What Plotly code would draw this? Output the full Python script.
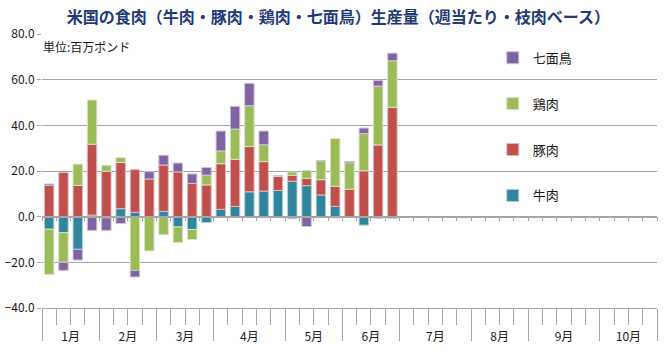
import plotly.graph_objects as go

# ---- data ----
beef = [-5.5, -7.0, -14.3, 0.7, -0.5, 3.5, 1.9, 0.0, 2.3, -4.5, -5.6, -2.6, 3.2,
        4.5, 10.9, 11.2, 11.5, 15.5, 13.6, 9.5, 4.5, 0.0, -3.7, -0.7, -0.7]
pork = [13.7, 19.3, 13.7, 31.0, 19.9, 20.2, 18.7, 16.5, 20.3, 19.6, 14.5, 13.9, 20.0,
        20.6, 19.8, 12.9, 6.2, 2.6, 3.2, 6.7, 8.8, 12.0, 20.1, 31.4, 47.9]
chicken = [-19.8, -13.0, 9.3, 19.4, 2.6, 2.1, -23.6, -15.0, -7.9, -6.8, -4.4, 4.3, 5.6,
           13.3, 17.9, 7.4, 0.3, 1.5, 3.5, 8.3, 20.9, 11.6, 16.3, 25.8, 20.4]
turkey = [0.6, -3.5, -4.7, -6.0, -5.5, -3.0, -2.8, 3.2, 4.3, 3.9, 4.2, 3.3, 8.7,
          9.9, 9.8, 6.0, 0.0, -0.9, -4.3, 0.0, -0.5, 0.6, 2.4, 2.5, 3.3]
series_names = ["牛肉", "豚肉", "鶏肉", "七面鳥"]
month_labels = ["1月", "2月", "3月", "4月", "5月", "6月", "7月", "8月", "9月", "10月"]
weeks_per_month = [4, 4, 4, 5, 4, 4, 5, 4, 5, 4]

colors = ["#31859C", "#C0504D", "#9BBB59", "#8064A2"]
edges = ["#A9D2DD", "#E6B9B8", "#D7E4BD", "#CCC1DA"]

n_weeks = sum(weeks_per_month)
week_idx = list(range(len(beef)))
week_bounds = [i - 0.5 for i in range(n_weeks + 1)]
month_bounds = [-0.5]
for w in weeks_per_month:
    month_bounds.append(month_bounds[-1] + w)
month_centers = [(month_bounds[i] + month_bounds[i + 1]) / 2 for i in range(len(weeks_per_month))]
xr = [-0.5, n_weeks - 0.5]

fig = go.Figure()
n_series = len(series_names)
for k, (name, vals, c, e) in enumerate(zip(series_names, [beef, pork, chicken, turkey], colors, edges)):
    fig.add_trace(go.Bar(x=week_idx, y=vals, name=name, legendgroup=name,
                         legendrank=n_series - k,
                         marker=dict(color=c, line=dict(color=e, width=1))))

font = "Noto Sans CJK JP"
grid = "#a6a6a6"
fig.update_layout(
    width=670, height=354,
    margin=dict(l=42, r=13, t=34, b=46),
    paper_bgcolor="white", plot_bgcolor="white",
    barmode="relative", bargap=0.34,
    font=dict(family=font, size=12, color="#1a1a1a"),
    title=dict(text="米国の食肉（牛肉・豚肉・鶏肉・七面鳥）生産量（週当たり・枝肉ベース）",
               x=0.505, xanchor="center", y=0.952, yanchor="middle",
               font=dict(family=font, size=16, color="#1F3A7A", weight="bold")),
    legend=dict(x=0.733, y=0.968, xanchor="left", yanchor="top",
                traceorder="grouped", tracegroupgap=26,
                font=dict(size=13, color="#1a1a1a"), bgcolor="rgba(0,0,0,0)"),
    showlegend=True,
    yaxis=dict(range=[-40, 80], dtick=20, tickformat=".1f", showgrid=True,
               gridcolor=grid, gridwidth=1, zeroline=False, ticks="outside",
               ticklen=4, tickcolor=grid, showline=False, automargin=False,
               tickfont=dict(size=12, color="#1a1a1a")),
    xaxis=dict(range=xr, showgrid=False, zeroline=False, tickmode="array",
               tickvals=week_bounds, showticklabels=False, ticks="outside",
               ticklen=16, tickcolor=grid, showline=True, linecolor=grid,
               automargin=False),
    xaxis2=dict(range=xr, overlaying="x", anchor="y", side="bottom", showgrid=False,
                zeroline=False, tickmode="array", tickvals=month_bounds,
                showticklabels=False, ticks="outside", ticklen=32, tickcolor=grid,
                showline=False, automargin=False),
    xaxis3=dict(range=xr, overlaying="x", anchor="y", side="bottom", showgrid=False,
                zeroline=False, tickmode="array", tickvals=month_centers,
                ticktext=month_labels, ticks="outside", ticklen=18,
                tickcolor="rgba(0,0,0,0)", showline=False, automargin=False,
                tickfont=dict(size=12, color="#1a1a1a")),
    xaxis4=dict(range=xr, overlaying="x", anchor="free", position=1 / 3, side="bottom",
                showgrid=False, zeroline=False, tickmode="array", tickvals=week_bounds,
                showticklabels=False, ticks="outside", ticklen=4, tickcolor=grid,
                showline=True, linecolor=grid, linewidth=1.5, automargin=False),
)
# invisible helper traces so overlay axes render
for ax in ["x2", "x3", "x4"]:
    fig.add_trace(go.Scatter(x=[xr[0]], y=[0], xaxis=ax, yaxis="y", mode="markers",
                             marker=dict(opacity=0), showlegend=False, hoverinfo="skip"))

fig.add_annotation(text="単位:百万ポンド", xref="paper", yref="paper", x=-0.002, y=0.955,
                   xanchor="left", yanchor="middle", showarrow=False,
                   font=dict(size=12, color="#1a1a1a", family=font))

fig.write_html("out.html")
